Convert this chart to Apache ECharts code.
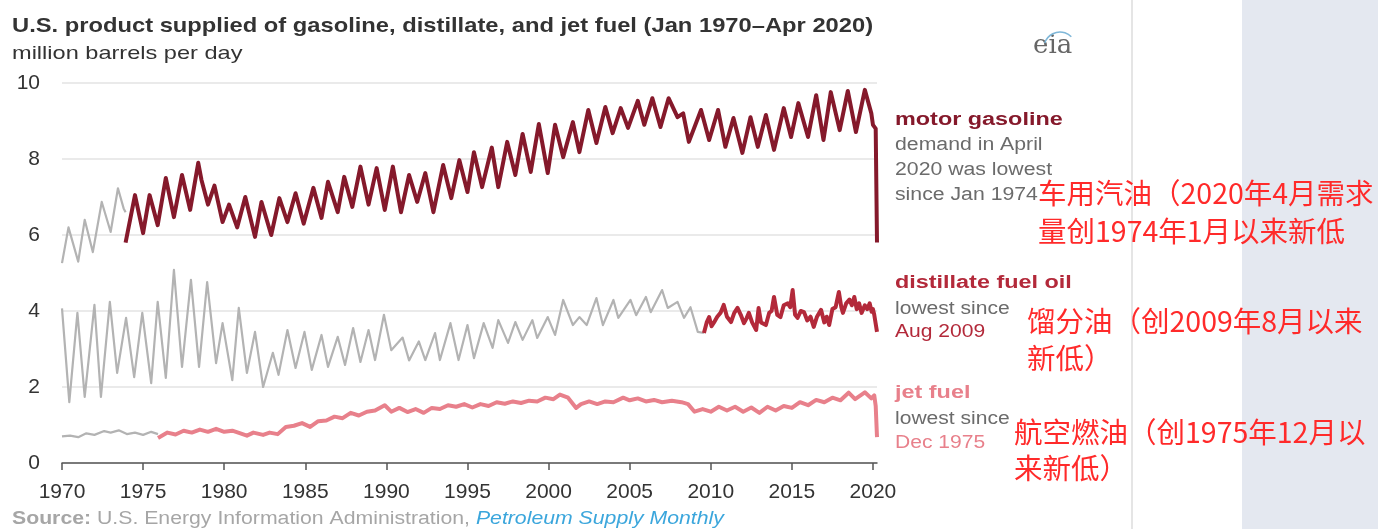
<!DOCTYPE html>
<html>
<head>
<meta charset="utf-8">
<script src="https://cdn.jsdelivr.net/npm/echarts@6/dist/echarts.min.js"></script>
<style>
  html, body { margin: 0; padding: 0; background: #fff; }
  #chart { width: 1378px; height: 529px; }
</style>
</head>
<body>
<div id="chart"></div>
<script>
// [decimal year, million barrels per day]
const gasolineEarly = [
  [1970.0, 5.26], [1970.4, 6.2], [1971.0, 5.3], [1971.4, 6.4], [1971.9, 5.55], [1972.45, 6.87],
  [1973.0, 6.08], [1973.45, 7.23], [1973.8, 6.7], [1973.92, 6.6]
]
const gasoline = [
  [1973.92, 5.8], [1974.5, 7.05], [1975.0, 6.05], [1975.4, 7.05], [1975.9, 6.26], [1976.4, 7.5],
  [1976.9, 6.47], [1977.4, 7.58], [1977.9, 6.66], [1978.4, 7.9], [1978.6, 7.45], [1979.0, 6.8],
  [1979.4, 7.3], [1979.9, 6.34], [1980.3, 6.8], [1980.8, 6.2], [1981.3, 7.0], [1981.9, 5.95],
  [1982.3, 6.87], [1982.9, 6.0], [1983.4, 6.97], [1983.9, 6.34], [1984.4, 7.1], [1984.9, 6.3],
  [1985.5, 7.24], [1986.0, 6.45], [1986.4, 7.4], [1987.0, 6.6], [1987.4, 7.53], [1987.9, 6.74],
  [1988.4, 7.8], [1988.9, 6.8], [1989.4, 7.76], [1989.9, 6.66], [1990.4, 7.8], [1990.9, 6.6],
  [1991.4, 7.58], [1991.9, 6.87], [1992.4, 7.63], [1992.9, 6.6], [1993.5, 7.84], [1994.0, 6.97],
  [1994.5, 7.97], [1995.0, 7.13], [1995.4, 8.18], [1995.9, 7.26], [1996.5, 8.3], [1996.9, 7.26],
  [1997.45, 8.45], [1997.95, 7.58], [1998.4, 8.66], [1998.9, 7.66], [1999.4, 8.92], [1999.95, 7.63],
  [2000.4, 8.9], [2000.9, 8.05], [2001.5, 8.97], [2001.9, 8.18], [2002.45, 9.29], [2002.95, 8.42],
  [2003.5, 9.37], [2003.95, 8.68], [2004.45, 9.34], [2004.9, 8.82], [2005.5, 9.53], [2005.9, 8.9],
  [2006.4, 9.6], [2006.9, 8.84], [2007.4, 9.6], [2007.95, 9.1], [2008.3, 9.2], [2008.65, 8.45],
  [2009.4, 9.29], [2009.9, 8.5], [2010.45, 9.29], [2010.9, 8.32], [2011.4, 9.08], [2011.95, 8.16],
  [2012.45, 9.1], [2012.9, 8.32], [2013.4, 9.16], [2013.9, 8.24], [2014.5, 9.34], [2014.95, 8.58],
  [2015.4, 9.47], [2016.0, 8.58], [2016.5, 9.68], [2016.95, 8.5], [2017.4, 9.76], [2017.95, 8.76],
  [2018.45, 9.79], [2018.95, 8.71], [2019.5, 9.82], [2019.9, 9.2], [2020.0, 8.9], [2020.17, 8.8],
  [2020.25, 5.8]
]

const distillateEarly = [
  [1970.0, 4.07], [1970.45, 1.6], [1970.95, 3.95], [1971.4, 1.74], [1972.0, 4.16], [1972.4, 1.74],
  [1972.95, 4.24], [1973.4, 2.37], [1973.95, 3.82], [1974.45, 2.26], [1974.95, 3.95], [1975.5, 2.1],
  [1975.9, 4.24], [1976.4, 2.24], [1976.9, 5.08], [1977.4, 2.53], [1977.95, 4.82], [1978.45, 2.53],
  [1978.95, 4.76], [1979.5, 2.63], [1979.9, 3.68], [1980.5, 2.18], [1980.9, 4.08], [1981.4, 2.37],
  [1981.9, 3.45], [1982.4, 2.0], [1983.0, 2.9], [1983.35, 2.32], [1983.9, 3.5], [1984.4, 2.5],
  [1984.95, 3.45], [1985.4, 2.45], [1986.0, 3.37], [1986.4, 2.53], [1987.0, 3.32], [1987.45, 2.58],
  [1987.95, 3.55], [1988.4, 2.66], [1988.9, 3.5], [1989.3, 2.71], [1989.85, 3.9], [1990.3, 2.97],
  [1991.0, 3.3], [1991.4, 2.7], [1992.0, 3.2], [1992.4, 2.71], [1993.0, 3.42], [1993.3, 2.71],
  [1993.95, 3.68], [1994.45, 2.71], [1995.0, 3.63], [1995.4, 2.76], [1996.0, 3.68], [1996.55, 3.03],
  [1996.9, 3.76], [1997.5, 3.16], [1997.95, 3.71], [1998.4, 3.24], [1999.0, 3.76], [1999.3, 3.29],
  [1999.95, 3.84], [2000.4, 3.37], [2000.9, 4.29], [2001.5, 3.63], [2001.9, 3.84], [2002.35, 3.63],
  [2002.95, 4.34], [2003.35, 3.63], [2004.0, 4.29], [2004.3, 3.82], [2005.05, 4.29], [2005.4, 3.89],
  [2006.0, 4.37], [2006.3, 3.97], [2007.0, 4.55], [2007.35, 4.08], [2007.95, 4.24], [2008.35, 3.82],
  [2008.75, 4.1], [2009.2, 3.45], [2009.58, 3.42]
]
const distillate = [
  [2009.58, 3.42], [2009.75, 3.7], [2009.9, 3.84], [2010.05, 3.6], [2010.2, 3.7], [2010.4, 3.85],
  [2010.6, 3.95], [2010.8, 4.16], [2011.0, 3.85], [2011.25, 3.71], [2011.45, 3.95], [2011.65, 4.08],
  [2011.85, 3.9], [2012.05, 3.68], [2012.2, 3.8], [2012.35, 3.95], [2012.55, 3.7], [2012.8, 3.5],
  [2012.95, 4.08], [2013.1, 3.7], [2013.4, 3.63], [2013.6, 3.95], [2013.75, 4.0], [2013.9, 4.37],
  [2014.1, 3.9], [2014.3, 3.84], [2014.5, 4.15], [2014.75, 4.2], [2014.9, 4.1], [2015.05, 4.55],
  [2015.2, 3.9], [2015.35, 3.82], [2015.55, 4.0], [2015.75, 3.97], [2015.95, 3.75], [2016.15, 3.85],
  [2016.35, 3.58], [2016.55, 3.85], [2016.8, 4.03], [2017.0, 3.7], [2017.15, 3.85], [2017.3, 3.63],
  [2017.5, 4.05], [2017.7, 4.1], [2017.9, 4.5], [2018.05, 4.1], [2018.15, 3.95], [2018.35, 4.2],
  [2018.55, 4.3], [2018.7, 4.15], [2018.85, 4.37], [2019.0, 4.05], [2019.15, 4.2], [2019.3, 3.95],
  [2019.5, 4.15], [2019.65, 4.05], [2019.8, 4.2], [2019.92, 3.98], [2020.0, 4.05], [2020.08, 3.9],
  [2020.17, 3.95], [2020.25, 3.45]
]

const jetEarly = [
  [1970.0, 0.7], [1970.5, 0.72], [1971.0, 0.68], [1971.5, 0.78], [1972.0, 0.74], [1972.6, 0.84],
  [1973.0, 0.8], [1973.5, 0.86], [1974.0, 0.76], [1974.5, 0.8], [1975.0, 0.74], [1975.5, 0.82],
  [1975.92, 0.76]
]
const jet = [
  [1975.92, 0.66], [1976.5, 0.8], [1977.0, 0.75], [1977.5, 0.85], [1978.0, 0.8], [1978.5, 0.88],
  [1979.0, 0.82], [1979.5, 0.9], [1980.0, 0.82], [1980.5, 0.85], [1981.0, 0.78], [1981.4, 0.72],
  [1981.8, 0.8], [1982.4, 0.74], [1982.8, 0.8], [1983.3, 0.76], [1983.8, 0.95], [1984.3, 0.98],
  [1984.8, 1.05], [1985.3, 0.95], [1985.8, 1.1], [1986.3, 1.12], [1986.8, 1.22], [1987.3, 1.18],
  [1987.8, 1.32], [1988.3, 1.25], [1988.8, 1.35], [1989.3, 1.38], [1989.9, 1.52], [1990.3, 1.35],
  [1990.8, 1.45], [1991.3, 1.34], [1991.8, 1.42], [1992.3, 1.32], [1992.8, 1.45], [1993.3, 1.42],
  [1993.8, 1.52], [1994.3, 1.48], [1994.8, 1.55], [1995.3, 1.46], [1995.8, 1.55], [1996.3, 1.5],
  [1996.8, 1.6], [1997.3, 1.56], [1997.8, 1.62], [1998.3, 1.58], [1998.8, 1.64], [1999.3, 1.62],
  [1999.8, 1.72], [2000.3, 1.68], [2000.7, 1.8], [2001.2, 1.72], [2001.7, 1.45], [2002.0, 1.55],
  [2002.5, 1.62], [2003.0, 1.55], [2003.5, 1.62], [2004.0, 1.6], [2004.6, 1.72], [2005.0, 1.65],
  [2005.5, 1.7], [2006.0, 1.62], [2006.5, 1.66], [2007.0, 1.6], [2007.6, 1.64], [2008.2, 1.6],
  [2008.6, 1.55], [2009.0, 1.35], [2009.5, 1.42], [2010.0, 1.35], [2010.5, 1.48], [2011.0, 1.38],
  [2011.5, 1.48], [2012.0, 1.35], [2012.5, 1.46], [2013.0, 1.32], [2013.5, 1.48], [2014.0, 1.38],
  [2014.5, 1.5], [2015.0, 1.45], [2015.5, 1.6], [2016.0, 1.52], [2016.5, 1.66], [2017.0, 1.6],
  [2017.5, 1.72], [2018.0, 1.65], [2018.5, 1.85], [2018.9, 1.68], [2019.5, 1.86], [2019.9, 1.7],
  [2020.08, 1.78], [2020.17, 1.5], [2020.25, 0.68]
]

const yearTicks = [1970, 1975, 1980, 1985, 1990, 1995, 2000, 2005, 2010, 2015, 2020]

const font = 'Liberation Sans, Arial, sans-serif'
const cjk = '"Noto Sans CJK SC", sans-serif'
const grayLine = '#b3b3b3'
const gasColor = '#85192b'
const distColor = '#b3293a'
const jetColor = '#e8808b'
const noteGray = '#6b6b6b'
const cnRed = '#ff2a2a'

function lineSeries(data, color, width, z) {
  return {
    type: 'line',
    data: data,
    showSymbol: false,
    symbol: 'none',
    z: z,
    lineStyle: {color: color, width: width, join: 'round'}
  }
}

// text drawn from its top-left corner, optionally stretched sideways
function txt(x, y, text, size, color, weight, sx, family) {
  return {
    type: 'text',
    x: x,
    y: y,
    scaleX: sx || 1,
    z: 100,
    style: {
      text: text,
      fill: color,
      align: 'left',
      verticalAlign: 'top',
      font: (weight || 'normal') + ' ' + size + 'px ' + (family || font)
    }
  }
}

const chart = echarts.init(document.getElementById('chart'))
chart.setOption({
  animation: false,
  grid: {left: 62, right: 501, top: 83, bottom: 66},
  xAxis: {
    type: 'value',
    min: 1970,
    max: 2020.25,
    axisLine: {show: true, lineStyle: {color: '#555', width: 1.5}},
    axisTick: {show: true, length: 7, lineStyle: {color: '#555', width: 1.5}, customValues: yearTicks},
    axisLabel: {
      color: '#333', fontSize: 21, fontFamily: font, margin: 19, customValues: yearTicks,
      formatter: v => String(v)
    },
    splitLine: {show: false}
  },
  yAxis: {
    type: 'value',
    min: 0,
    max: 10,
    interval: 2,
    axisLine: {show: false},
    axisTick: {show: false},
    axisLabel: {color: '#333', fontSize: 21, fontFamily: font, margin: 22},
    splitLine: {lineStyle: {color: '#e3e3e3', width: 1.5}}
  },
  series: [
    lineSeries(gasolineEarly, grayLine, 2.2, 2),
    lineSeries(gasoline, gasColor, 4, 3),
    lineSeries(distillateEarly, grayLine, 2.2, 2),
    lineSeries(distillate, distColor, 4, 3),
    lineSeries(jetEarly, grayLine, 2.2, 2),
    lineSeries(jet, jetColor, 4, 3)
  ],
  graphic: [
    // right side panel and divider
    {type: 'rect', shape: {x: 1242, y: 0, width: 136, height: 529}, style: {fill: '#e4e8f0'}, z: 0},
    {type: 'line', shape: {x1: 1132, y1: 0, x2: 1132, y2: 529}, style: {stroke: '#dcdcdc', lineWidth: 1.5}, z: 0},

    txt(12, 16, 'U.S. product supplied of gasoline, distillate, and jet fuel (Jan 1970\u2013Apr 2020)', 21, '#333', 'bold', 1.13),
    txt(12, 44, 'million barrels per day', 19, '#333', 'normal', 1.24),

    // eia logo
    txt(1033, 33, 'eia', 26, '#666', 'normal', 1, '"DejaVu Serif", serif'),
    {type: 'arc', shape: {cx: 1060, cy: 48, r: 16, startAngle: Math.PI * 1.1, endAngle: Math.PI * 1.75}, style: {stroke: '#7fb7d8', lineWidth: 1.5, fill: null}, z: 100},

    // motor gasoline
    txt(895, 111, 'motor gasoline', 18, gasColor, 'bold', 1.3),
    txt(895, 136, 'demand in April', 18, noteGray, 'normal', 1.18),
    txt(895, 161, '2020 was lowest', 18, noteGray, 'normal', 1.18),
    txt(895, 186, 'since Jan 1974', 18, noteGray, 'normal', 1.18),
    txt(1038, 179, '车用汽油（2020年4月需求', 28.5, cnRed, 'normal', 1, cjk),
    txt(1038, 217, '量创1974年1月以来新低', 28.5, cnRed, 'normal', 1, cjk),

    // distillate
    txt(895, 274, 'distillate fuel oil', 18, distColor, 'bold', 1.3),
    txt(895, 300, 'lowest since', 18, noteGray, 'normal', 1.17),
    txt(895, 323, 'Aug 2009', 18, distColor, 'normal', 1.17),
    txt(1027, 307, '馏分油（创2009年8月以来', 28.5, cnRed, 'normal', 1, cjk),
    txt(1027, 344, '新低）', 28.5, cnRed, 'normal', 1, cjk),

    // jet fuel
    txt(895, 384, 'jet fuel', 18, jetColor, 'bold', 1.3),
    txt(895, 410, 'lowest since', 18, noteGray, 'normal', 1.17),
    txt(895, 434, 'Dec 1975', 18, jetColor, 'normal', 1.17),
    txt(1014, 418, '航空燃油（创1975年12月以', 28.5, cnRed, 'normal', 1, cjk),
    txt(1014, 454, '来新低）', 28.5, cnRed, 'normal', 1, cjk),

    // source
    {
      type: 'text',
      x: 12,
      y: 510,
      scaleX: 1.18,
      z: 100,
      style: {
        text: '{b|Source:} U.S. Energy Information Administration, {i|Petroleum Supply Monthly}',
        fill: '#a6a6a6',
        align: 'left',
        verticalAlign: 'top',
        font: '18px ' + font,
        rich: {
          b: {fontWeight: 'bold', fontSize: 18, fontFamily: font, fill: '#a6a6a6'},
          i: {fontStyle: 'italic', fontSize: 18, fontFamily: font, fill: '#3ba6dc'}
        }
      }
    }
  ]
})
</script>
</body>
</html>
